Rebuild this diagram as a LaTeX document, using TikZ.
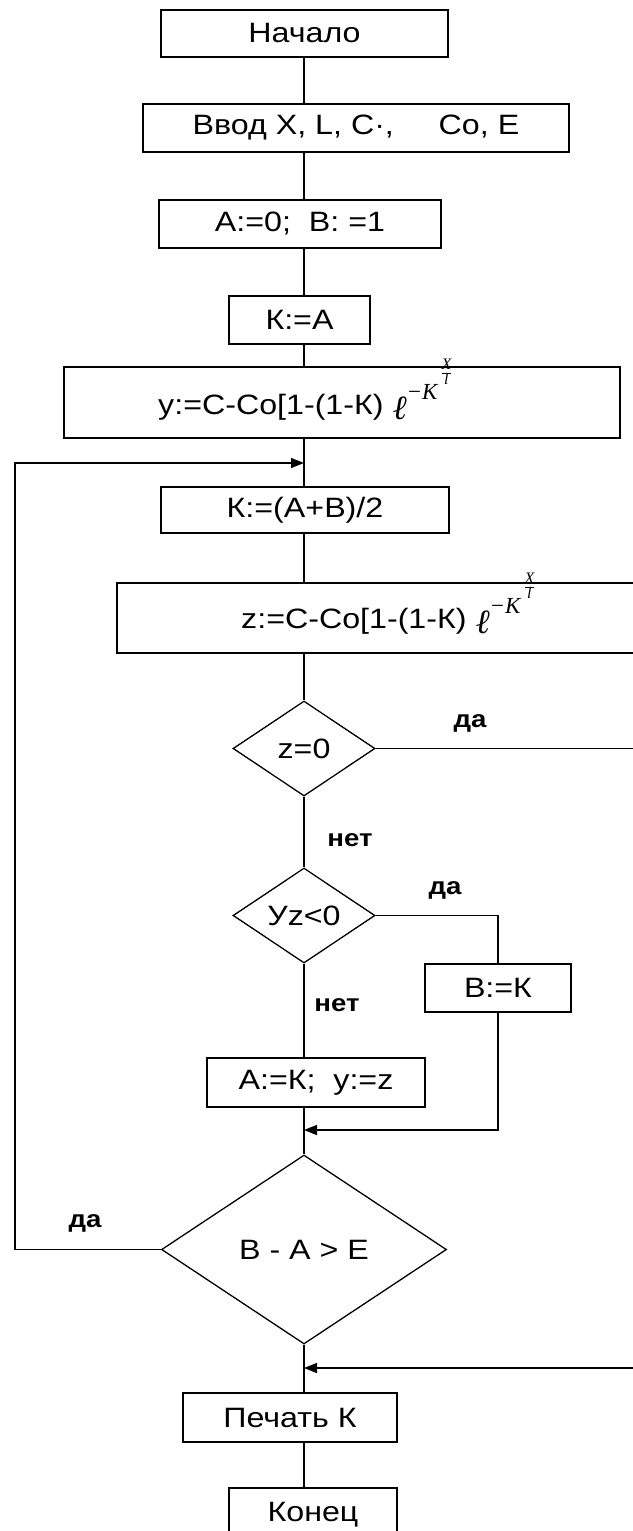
\documentclass[tikz,border=0pt]{standalone}
\usepackage{fontspec}
\setmainfont{Liberation Sans}[FakeStretch=1.15]
\newfontfamily\serifit{Liberation Serif}[UprightFont=*-Italic]
\usetikzlibrary{shapes.geometric,arrows.meta}
\newcommand\lexpform{{\serifit
  \raisebox{-5pt}{\fontsize{34}{34}\selectfont ℓ}%
  \raisebox{15pt}{\fontsize{23}{23}\selectfont −K}\hspace{4pt}%
  \raisebox{36pt}{\fontsize{16}{16}\selectfont\setlength{\arrayrulewidth}{1pt}\renewcommand\arraystretch{0.75}\setlength{\tabcolsep}{0pt}\begin{tabular}{c}X\\\hline l\end{tabular}}}}
\begin{document}
\begin{tikzpicture}[x=1pt,y=-1pt,
  every node/.style={font=\fontsize{28}{32}\selectfont},
  box/.style={draw, line width=1.4pt, inner sep=0pt, rectangle},
  dec/.style={draw, diamond, line width=1.3pt, inner sep=0pt, aspect=1.5},
  lbl/.style={font=\fontsize{24}{28}\selectfont\bfseries, inner sep=0pt},
  txt/.style={inner sep=0pt, anchor=base west},
  line/.style={line width=1.4pt},
  arr/.style={line width=1.4pt, -{Triangle[length=13pt,width=10pt]}}]
\useasboundingbox (0,0) rectangle (632,1531);
\coordinate (ax) at (304,0);
\coordinate (lx) at (15,0);
\coordinate (rx) at (700,0);
\coordinate (loopin) at (304,463);
\coordinate (mrg) at (304,1130);
\coordinate (bot) at (304,1368);

\node[box, minimum width=287, minimum height=47] (start) at (304.5,33.5) {Начало};
\node[box, minimum width=426, minimum height=48] (input) at (356,128) {Ввод X, L, C·,\hspace{1.6em}Co, E};
\node[box, minimum width=282, minimum height=48] (init) at (300,224) {A:=0;\ \ B: =1};
\node[box, minimum width=141, minimum height=48] (ka) at (299.5,320) {К:=A};
\node[box, minimum width=556, minimum height=71] (ybox) at (342,402.5) {};
\node[txt] (ytext) at (158,414) {y:=C-Co[1-(1-К) \lexpform};
\node[box, minimum width=288, minimum height=46] (kab) at (305,510) {К:=(A+B)/2};
\node[box, minimum width=573, minimum height=70] (zbox) at (403.5,618) {};
\node[txt] (ztext) at (241,628) {z:=C-Co[1-(1-К) \lexpform};
\node[dec, minimum width=142, minimum height=95] (d1) at (304,748.5) {z=0};
\node[dec, minimum width=142, minimum height=95] (d2) at (304,915.5) {Уz<0};
\node[box, minimum width=146, minimum height=48] (bk) at (498,988) {B:=К};
\node[box, minimum width=218, minimum height=49] (ak) at (316,1082.5) {A:=К;\ \ y:=z};
\node[dec, minimum width=285, minimum height=189] (d3) at (304,1249.5) {B - A > E};
\node[box, minimum width=214, minimum height=49] (pk) at (290,1417.5) {Печать К};
\node[box, minimum width=168, minimum height=54] (end) at (313,1515) {Конец};

\node[lbl] (yes1) at (470,723) {да};
\node[lbl] (no1) at (350,840) {нет};
\node[lbl] (yes2) at (445,890) {да};
\node[lbl] (no2) at (337,1005) {нет};
\node[lbl] (yes3) at (85,1223) {да};

\draw[line] (start.south -| ax) -- (input.north -| ax);
\draw[line] (input.south -| ax) -- (init.north -| ax);
\draw[line] (init.south -| ax) -- (ka.north -| ax);
\draw[line] (ka.south -| ax) -- (ybox.north -| ax);
\draw[line] (ybox.south -| ax) -- (kab.north -| ax);
\draw[line] (kab.south -| ax) -- (zbox.north -| ax);
\draw[line] (zbox.south -| ax) -- (d1.north);
\draw[line] (d1.south) -- (d2.north);
\draw[line] (d2.south) -- (ak.north -| ax);
\draw[line] (ak.south -| ax) -- (d3.north);
\draw[line] (d3.south) -- (pk.north -| ax);
\draw[line] (pk.south -| ax) -- (end.north -| ax);

\draw[line] (d2.east) -| (bk.north);
\draw[arr] (bk.south) -- (bk.south |- mrg) -- (mrg);
\draw[arr] (d3.west) -- (d3.west -| lx) -- (loopin -| lx) -- (loopin);
\draw[arr] (d1.east) -- (d1.east -| rx) -- (bot -| rx) -- (bot);
\end{tikzpicture}
\end{document}
